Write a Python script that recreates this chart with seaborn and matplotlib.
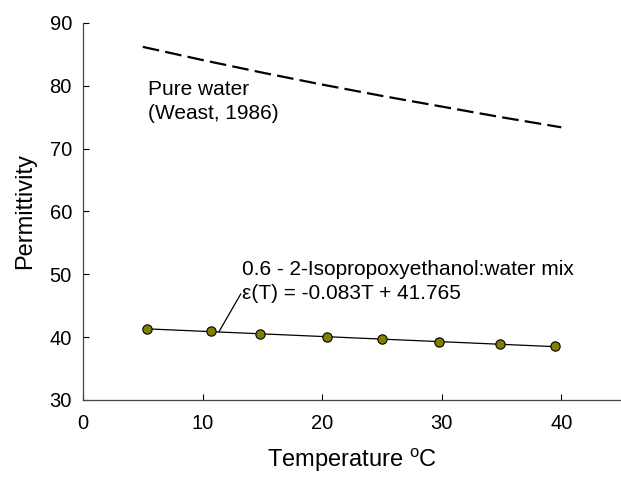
import matplotlib
matplotlib.use("Agg")
import matplotlib.pyplot as plt
import seaborn as sns
import numpy as np
import pandas as pd

# ---- data ----
water_T = [5, 10, 15, 20, 25, 30, 35, 40]
water_eps = [86.2, 84.1, 82.1, 80.2, 78.4, 76.7, 75.0, 73.4]

mix_T = [5.37, 10.67, 14.8, 20.4, 25.0, 29.8, 34.9, 39.5]
mix_eps = [41.35, 40.95, 40.55, 40.1, 39.75, 39.3, 38.9, 38.55]

fit_slope = -0.083
fit_intercept = 41.765

xticks = [0, 10, 20, 30, 40]
yticks = [30, 40, 50, 60, 70, 80, 90]

sns.set_style("ticks")
plt.rcParams['font.family'] = ['Liberation Sans', 'DejaVu Sans']
plt.rcParams['mathtext.default'] = 'regular'
plt.rcParams['text.color'] = 'black'
plt.rcParams['axes.labelcolor'] = 'black'
plt.rcParams['xtick.color'] = 'black'
plt.rcParams['ytick.color'] = 'black'

fig = plt.figure(figsize=(6.21, 4.78), dpi=100)
ax = fig.add_axes([0.1337, 0.1632, 0.8663, 0.7887])

water_df = pd.DataFrame({"T": water_T, "eps": water_eps})
mix_df = pd.DataFrame({"T": mix_T, "eps": mix_eps})
fit_T = [mix_T[0], mix_T[-1]]
fit_df = pd.DataFrame({"T": fit_T, "eps": [fit_slope * t + fit_intercept for t in fit_T]})

sns.lineplot(data=water_df, x="T", y="eps", ax=ax, color="black", lw=1.6,
             linestyle=(0, (7.5, 2.8)))
sns.lineplot(data=fit_df, x="T", y="eps", ax=ax, color="black", lw=0.9)
sns.scatterplot(data=mix_df, x="T", y="eps", ax=ax, color="#808000",
                edgecolor="black", linewidth=0.8, s=45, zorder=5)

ax.set_xlim(0, 45)
ax.set_ylim(30, 90)
ax.set_xticks(xticks)
ax.set_yticks(yticks)
ax.tick_params(direction="in", length=4, width=0.8, labelsize=14.5,
               colors="black", labelcolor="black")
ax.tick_params(axis="x", pad=10)
ax.tick_params(axis="y", pad=8)
for s in ["top", "right"]:
    ax.spines[s].set_visible(False)
for s in ["left", "bottom"]:
    ax.spines[s].set_color("#444444")
    ax.spines[s].set_linewidth(0.9)

ax.set_xlabel("Temperature $^{o}$C", fontsize=17, labelpad=10, color="black")
ax.set_ylabel("Permittivity", fontsize=17, labelpad=10, color="black")

ax.text(5.46, 78.54, "Pure water", fontsize=15, va="baseline", ha="left", color="black")
ax.text(5.46, 74.72, "(Weast, 1986)", fontsize=15, va="baseline", ha="left", color="black")
ax.text(13.26, 49.89, "0.6 - 2-Isopropoxyethanol:water mix", fontsize=15,
        va="baseline", ha="left", color="black")
ax.text(13.26, 46.07, "ε(T) = -0.083T + 41.765", fontsize=15,
        va="baseline", ha="left", color="black")
ax.plot([13.2, 11.36], [46.9, fit_slope * 11.36 + fit_intercept],
        color="black", lw=0.9)

fig.savefig("out.png", dpi=100)
